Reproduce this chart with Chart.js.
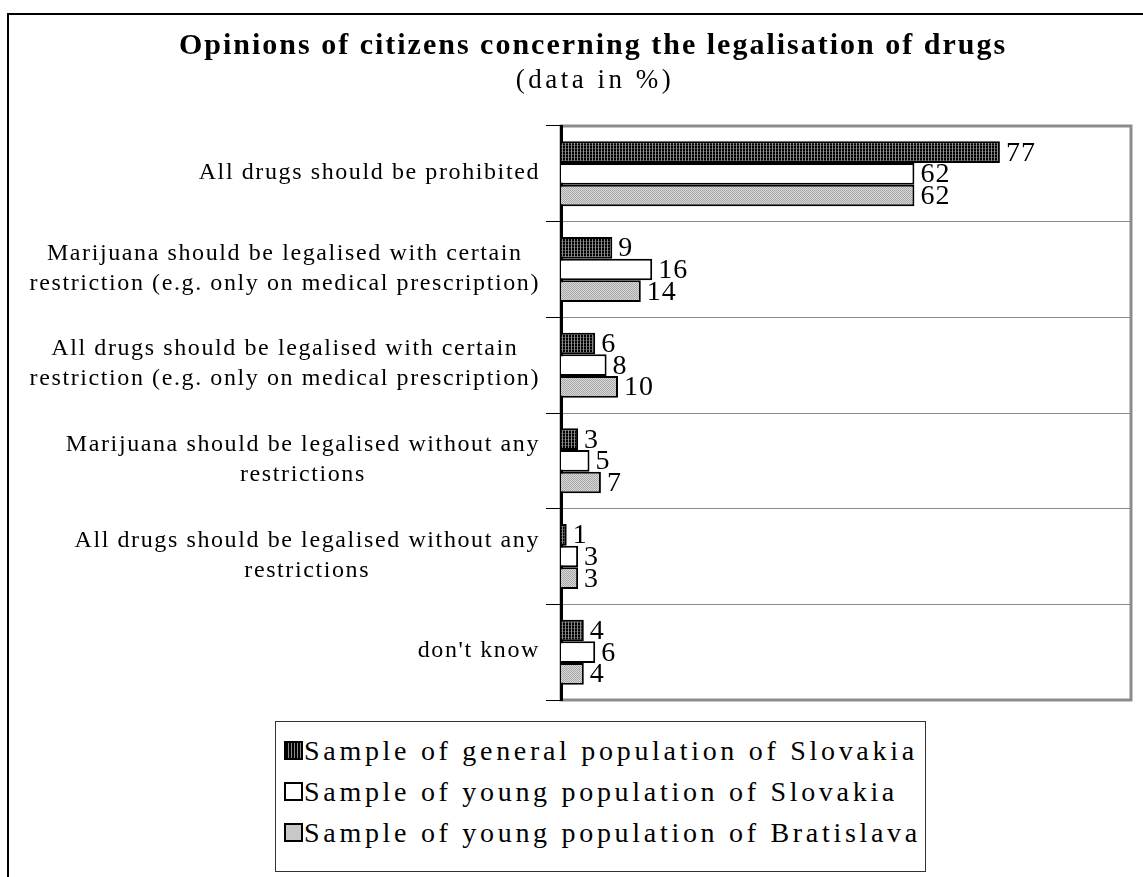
<!DOCTYPE html>
<html>
<head>
<meta charset="utf-8">
<title>Opinions of citizens concerning the legalisation of drugs</title>
<script src="https://cdn.jsdelivr.net/npm/chart.js"></script>
<style>
    html, body { margin: 0; padding: 0; background: #fff; }
    #wrap { position: relative; width: 1143px; height: 877px; overflow: hidden; }
    #legend {
        position: absolute; left: 275px; top: 721px; width: 649px; height: 149px;
        border: 1px solid #333; background: #fff;
        font-family: 'Liberation Serif', 'Times New Roman', serif; font-size: 28px;
        letter-spacing: 3.7px;
    }
    .item { position: absolute; left: 8px; height: 36px; line-height: 36px; white-space: nowrap; }
    .sw { display: inline-block; width: 15px; height: 15px; border: 2px solid #000; margin-right: 1px; vertical-align: 0; }
</style>
</head>
<body>
<div id="wrap">
    <canvas id="chart" width="1143" height="877"></canvas>
    <div id="legend"></div>
</div>

<script>
    const categories = [
        'All drugs should be prohibited',
        ['Marijuana should be legalised with certain', 'restriction (e.g. only on medical prescription)'],
        ['All drugs should be legalised with certain', 'restriction (e.g. only on medical prescription)'],
        ['Marijuana should be legalised without any', 'restrictions'],
        ['All drugs should be legalised without any', 'restrictions'],
        "don't know"
    ];
    const seriesNames = [
        'Sample of general population of Slovakia',
        'Sample of young population of Slovakia',
        'Sample of young population of Bratislava'
    ];
    const generalSlovakia = [77, 9, 6, 3, 1, 4];
    const youngSlovakia = [62, 16, 8, 5, 3, 6];
    const youngBratislava = [62, 14, 10, 7, 3, 4];

    const titleText = 'Opinions of citizens concerning the legalisation of drugs';
    const subtitleText = '(data in %)';

    const serif = "'Liberation Serif', 'Times New Roman', serif";

    function darkPattern() {
        const c = document.createElement('canvas');
        c.width = 3; c.height = 3;
        const g = c.getContext('2d');
        g.fillStyle = '#000'; g.fillRect(0, 0, 3, 3);
        g.fillStyle = '#444'; g.fillRect(0, 1, 3, 1);
        g.fillStyle = '#8a8a8a'; g.fillRect(1, 0, 1, 3);
        return g.createPattern(c, 'repeat');
    }
    function grayPattern() {
        const c = document.createElement('canvas');
        c.width = 2; c.height = 2;
        const g = c.getContext('2d');
        g.fillStyle = '#d8d8d8'; g.fillRect(0, 0, 2, 2);
        g.fillStyle = '#a8a8a8'; g.fillRect(0, 0, 1, 1); g.fillRect(1, 1, 1, 1);
        return g.createPattern(c, 'repeat');
    }

    // outer frame + grey plot border
    const framePlugin = {
        id: 'frame',
        beforeDraw(chart) {
            const ctx = chart.ctx, a = chart.chartArea;
            ctx.save();
            ctx.strokeStyle = '#000';
            ctx.lineWidth = 2;
            ctx.strokeRect(8, 14, 1300, 1000);
            ctx.strokeStyle = '#8c8c8c';
            ctx.lineWidth = 3;
            ctx.strokeRect(a.left, a.top, a.right - a.left, a.bottom - a.top);
            ctx.restore();
        }
    };

    // category labels: block right-aligned at the axis, lines centred in the block (like Excel)
    const categoryLabels = {
        id: 'categoryLabels',
        afterDraw(chart) {
            const ctx = chart.ctx, y = chart.scales.y;
            const right = y.right - 15 - 6;
            ctx.save();
            ctx.font = '24px ' + serif;
            ctx.letterSpacing = '1.6px';
            ctx.fillStyle = '#000';
            ctx.textAlign = 'center';
            ctx.textBaseline = 'middle';
            chart.data.labels.forEach((lab, i) => {
                const lines = Array.isArray(lab) ? lab : [lab];
                const w = Math.max(...lines.map(l => ctx.measureText(l).width));
                const cx = right - w / 2;
                const cy = y.getPixelForTick(i) - 1;
                lines.forEach((l, k) => {
                    ctx.fillText(l, cx, cy + (k - (lines.length - 1) / 2) * 30);
                });
            });
            ctx.restore();
        }
    };

    const titles = {
        id: 'titles',
        afterDraw(chart) {
            const ctx = chart.ctx;
            ctx.save();
            ctx.fillStyle = '#000';
            ctx.textAlign = 'center';
            ctx.textBaseline = 'middle';
            ctx.letterSpacing = '2px';
            ctx.font = 'bold 30px ' + serif;
            ctx.fillText(titleText, 593, 46);
            ctx.letterSpacing = '3.5px';
            ctx.font = '27px ' + serif;
            ctx.fillText(subtitleText, 595, 81);
            ctx.restore();
        }
    };

    const valueLabels = {
        id: 'valueLabels',
        afterDatasetsDraw(chart) {
            const ctx = chart.ctx;
            ctx.save();
            ctx.font = '28px ' + serif;
            ctx.letterSpacing = '1px';
            ctx.fillStyle = '#000';
            ctx.textBaseline = 'middle';
            ctx.textAlign = 'left';
            chart.data.datasets.forEach((ds, i) => {
                chart.getDatasetMeta(i).data.forEach((bar, j) => {
                    ctx.fillText(ds.data[j], bar.x + 6, bar.y + 1);
                });
            });
            ctx.restore();
        }
    };

    const fills = [darkPattern(), '#ffffff', grayPattern()];
    const values = [generalSlovakia, youngSlovakia, youngBratislava];

    new Chart(document.getElementById('chart'), {
        type: 'bar',
        data: {
            labels: categories,
            datasets: seriesNames.map((name, i) => ({
                label: name,
                data: values[i],
                backgroundColor: fills[i],
                borderColor: '#000',
                borderWidth: 2,
                categoryPercentage: 0.68,
                barPercentage: 1
            }))
        },
        options: {
            indexAxis: 'y',
            responsive: false,
            animation: false,
            layout: { padding: { left: 8, right: 12, top: 126, bottom: 177 } },
            scales: {
                x: { display: false, min: 0, max: 100 },
                y: {
                    afterFit(scale) { scale.width = 553; },
                    grid: { color: '#8c8c8c', lineWidth: 1, tickColor: '#000', tickLength: 15, tickWidth: 1 },
                    border: { display: true, color: '#000', width: 3 },
                    ticks: { display: false }
                }
            },
            plugins: {
                legend: { display: false },
                tooltip: { enabled: false },
                title: { display: false }
            }
        },
        plugins: [framePlugin, categoryLabels, titles, valueLabels]
    });

    // legend below the plot
    const swatchCss = [
        'background: repeating-linear-gradient(90deg, #000 0 2px, #8a8a8a 2px 3px);',
        'background: #fff;',
        'background: #c8c8c8;'
    ];
    const legend = document.getElementById('legend');
    seriesNames.forEach((name, i) => {
        const row = document.createElement('div');
        row.className = 'item';
        row.style.top = (11 + i * 41) + 'px';
        row.innerHTML = '<span class="sw" style="' + swatchCss[i] + '"></span>' + name;
        legend.appendChild(row);
    });
</script>
</body>
</html>
